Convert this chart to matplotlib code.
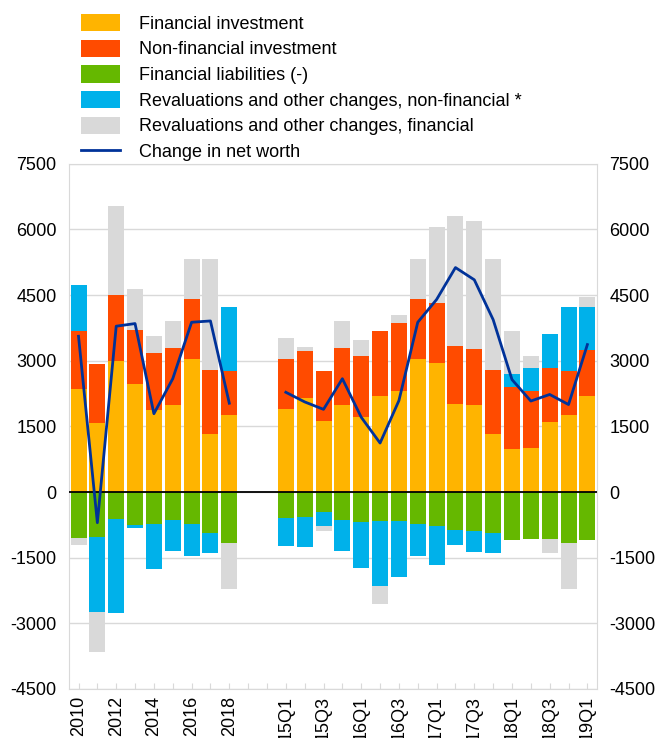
import numpy as np
import matplotlib
matplotlib.use("Agg")
import matplotlib.pyplot as plt
from matplotlib.patches import Patch
from matplotlib.lines import Line2D

plt.rcParams['font.family'] = ['Liberation Sans', 'DejaVu Sans']
plt.rcParams['axes.unicode_minus'] = False

# annual data 2010-2018
years = ["2010", "2011", "2012", "2013", "2014", "2015", "2016", "2017", "2018"]
fin_inv_a = [2360, 1580, 2990, 2480, 1880, 2000, 3050, 1320, 1750]
nonfin_inv_a = [1310, 1350, 1510, 1230, 1290, 1290, 1360, 1460, 1020]
fin_liab_a = [-1040, -1030, -620, -760, -720, -640, -730, -940, -1160]
reval_nf_a = [1070, -1710, -2140, -60, -1040, -710, -720, -460, 1450]
reval_f_a = [-170, -920, 2030, 930, 390, 630, 910, 2540, -1050]
net_worth_a = [3560, -700, 3790, 3850, 1790, 2590, 3880, 3910, 2030]

# quarterly data 15Q1-19Q1
quarters = ["15Q1", "15Q2", "15Q3", "15Q4", "16Q1", "16Q2", "16Q3", "16Q4",
            "17Q1", "17Q2", "17Q3", "17Q4", "18Q1", "18Q2", "18Q3", "18Q4", "19Q1"]
fin_inv_q = [1890, 2160, 1620, 2000, 1710, 2190, 2310, 3050, 2950, 2010, 1980,
             1320, 980, 1010, 1590, 1750, 2190]
nonfin_inv_q = [1160, 1065, 1135, 1290, 1390, 1485, 1545, 1360, 1370, 1320, 1300,
                1460, 1420, 1310, 1250, 1020, 1065]
fin_liab_q = [-585, -570, -465, -640, -685, -670, -670, -730, -780, -870, -900,
              -940, -1100, -1070, -1080, -1160, -1100]
reval_nf_q = [-650, -690, -310, -710, -1040, -1485, -1280, -720, -880, -335, -465,
              -460, 290, 525, 775, 1450, 980]
reval_f_q = [465, 90, -105, 630, 380, -395, 185, 910, 1730, 2985, 2915, 2540,
             980, 265, -310, -1050, 220]
net_worth_q = [2280, 2060, 1890, 2590, 1710, 1120, 2090, 3880, 4400, 5130, 4850,
               3940, 2570, 2080, 2230, 2000, 3370]

gap = 2
labels = years + [""] * gap + quarters


def join(a, q):
    return np.array(list(a) + [np.nan] * gap + list(q), dtype=float)


series = [
    ("Financial investment", join(fin_inv_a, fin_inv_q), "#FFB400"),
    ("Non-financial investment", join(nonfin_inv_a, nonfin_inv_q), "#FF4B00"),
    ("Financial liabilities (-)", join(fin_liab_a, fin_liab_q), "#65B800"),
    ("Revaluations and other changes, non-financial *", join(reval_nf_a, reval_nf_q), "#00B1EA"),
    ("Revaluations and other changes, financial", join(reval_f_a, reval_f_q), "#D9D9D9"),
]
net_worth = join(net_worth_a, net_worth_q)
x = np.arange(len(labels))

fig = plt.figure(figsize=(6.58, 7.38), dpi=100)
ax = fig.add_axes([0.105, 0.0664, 0.802, 0.7116])

pos_base = np.zeros(len(x))
neg_base = np.zeros(len(x))
for name, vals, col in series:
    v = np.nan_to_num(vals)
    pos = np.where(v > 0, v, 0)
    neg = np.where(v < 0, v, 0)
    ax.bar(x, pos, 0.85, bottom=pos_base, color=col, zorder=2)
    ax.bar(x, neg, 0.85, bottom=neg_base, color=col, zorder=2)
    pos_base += pos
    neg_base += neg

ax.plot(x, net_worth, color="#003299", lw=2, zorder=4)
ax.axhline(0, color="black", lw=1.3, zorder=3)

ax.set_xlim(-0.5, len(x) - 0.5)
ax.set_ylim(-4500, 7500)
ax.set_yticks(np.arange(-4500, 7501, 1500))
ax.grid(axis="y", color="#D9D9D9", lw=1, zorder=0)
ax.set_axisbelow(True)

shown = [lab if lab in years[::2] or lab in quarters[::2] else "" for lab in labels]
ax.set_xticks(x)
ax.set_xticklabels(shown, rotation=90, fontsize=13)
ax.tick_params(axis="x", direction="in", length=4, color="#D9D9D9", pad=5)
ax.tick_params(axis="y", length=0, labelsize=13, pad=9,
               labelleft=True, labelright=True)
for s in ax.spines.values():
    s.set_color("#D9D9D9")

handles = [Patch(facecolor=c, label=n) for n, _, c in series]
handles.append(Line2D([0], [0], color="#003299", lw=2, label="Change in net worth"))
fig.legend(handles=handles, loc="upper left", bbox_to_anchor=(0.123, 0.981),
           frameon=False, fontsize=13, handlelength=2.17, handleheight=1.1,
           labelspacing=0.38, handletextpad=1.05, borderaxespad=0, borderpad=0.0)

fig.savefig("out.png", dpi=100)
